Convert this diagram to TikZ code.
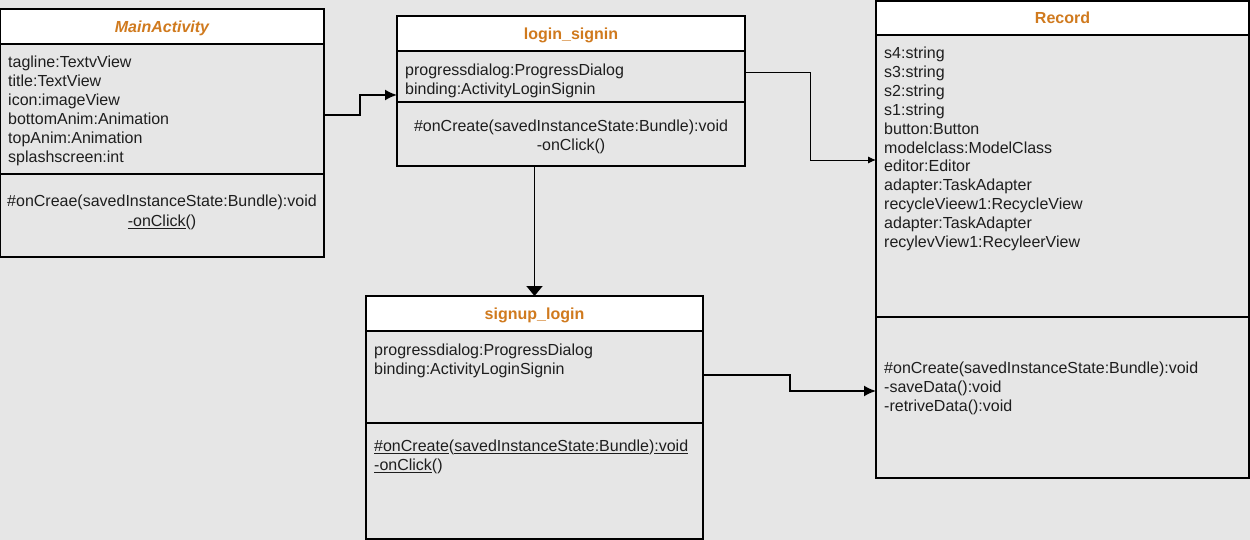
\documentclass[tikz,border=0pt]{standalone}
\usepackage{fontspec}
\setmainfont{Liberation Sans}
\usetikzlibrary{arrows.meta}
\definecolor{bg}{HTML}{E6E6E6}
\definecolor{ttl}{HTML}{D07A1E}
\definecolor{txt}{HTML}{1E1E1E}
\begin{document}
\begin{tikzpicture}[x=1pt,y=-1pt,
  box/.style={draw=black, line width=1.3pt, fill=bg, anchor=north west, inner sep=0pt, outer sep=0pt},
  hdr/.style={draw=black, line width=1.3pt, fill=white, anchor=north west, inner sep=0pt, outer sep=0pt},
  ttlf/.style={text=ttl, font=\fontsize{16}{18}\selectfont\bfseries, inner sep=0pt, anchor=base},
  attr/.style={text=txt, font=\fontsize{16}{19}\selectfont, align=left, anchor=base west, inner sep=0pt},
  meth/.style={text=txt, font=\fontsize{16}{19}\selectfont, align=center, anchor=base, inner sep=0pt},
  divl/.style={line width=1.8pt, black},
  conn/.style={line width=1.8pt, black, -{Latex[length=12pt,width=11pt]}},
  thin/.style={line width=0.9pt, black, -{Latex[length=8pt,width=7pt]}},
  down/.style={line width=1.8pt, black, -{Triangle[length=10pt,width=16pt]}}
]
\fill[bg] (0,0) rectangle (1250,540);
\useasboundingbox (0,0) rectangle (1250,540);

% MainActivity
\node[box, minimum width=324pt, minimum height=248pt] (ma) at (0,9) {};
\node[hdr, minimum width=324pt, minimum height=35pt] (mah) at (0,9) {};
\node[ttlf, font=\fontsize{16}{18}\selectfont\bfseries\itshape] (mat) at ([yshift=-6pt]mah.center) {MainActivity};
\draw[divl] (0,174) -- (324,174);
\node[attr] (maa) at (8,162.5) {tagline:TextvView\\title:TextView\\icon:imageView\\bottomAnim:Animation\\topAnim:Animation\\splashscreen:int};
\node[meth, font=\fontsize{16}{20}\selectfont] (mam) at (162,226.5) {\#onCreae(savedInstanceState:Bundle):void\\\underline{-onClick}()};

% login_signin
\node[box, minimum width=348pt, minimum height=150pt] (ls) at (397,16) {};
\node[hdr, minimum width=348pt, minimum height=35pt] (lsh) at (397,16) {};
\node[ttlf] (lst) at ([yshift=-6pt]lsh.center) {login\_signin};
\draw[divl] (397,102) -- (745,102);
\node[attr] (lsa) at (405,94.5) {progressdialog:ProgressDialog\\binding:ActivityLoginSignin};
\node[meth] (lsm) at (571,150.5) {\#onCreate(savedInstanceState:Bundle):void\\-onClick()};

% signup_login
\node[box, minimum width=337pt, minimum height=243pt] (sl) at (366,296) {};
\node[hdr, minimum width=337pt, minimum height=35pt] (slh) at (366,296) {};
\node[ttlf] (slt) at ([yshift=-6pt]slh.center) {signup\_login};
\draw[divl] (366,423) -- (703,423);
\node[attr] (sla) at (374,374.5) {progressdialog:ProgressDialog\\binding:ActivityLoginSignin};
\node[attr] (slm) at (374,470.5) {\underline{\#onCreate}(\underline{savedInstanceState:Bundle})\underline{:void}\\\underline{-onClick}()};

% Record
\node[box, minimum width=373pt, minimum height=477pt] (rc) at (876,1) {};
\node[hdr, minimum width=373pt, minimum height=34pt] (rch) at (876,1) {};
\node[ttlf] (rct) at ([yshift=-6pt]rch.center) {Record};
\draw[divl] (876,317) -- (1249,317);
\node[attr, font=\fontsize{16}{18.9}\selectfont] (rca) at (884,247.5) {s4:string\\s3:string\\s2:string\\s1:string\\button:Button\\modelclass:ModelClass\\editor:Editor\\adapter:TaskAdapter\\recycleVieew1:RecycleView\\adapter:TaskAdapter\\recylevView1:RecyleerView};
\node[attr] (rcm) at (884,411.5) {\#onCreate(savedInstanceState:Bundle):void\\-saveData():void\\-retriveData():void};

% connectors
\draw[conn] ([yshift=18pt]ma.east) -- ++(36,0) |- ([yshift=-4pt]ls.west);
\draw[thin] ([yshift=19pt]ls.east) -- ++(65,0) |- ([yshift=79.5pt]rc.west);
\draw[down] (sl.north |- ls.south) -- (sl.north);
\draw[conn] ([yshift=42.5pt]sl.east) -- ++(87,0) |- ([yshift=-151.5pt]rc.west);
\end{tikzpicture}
\end{document}
